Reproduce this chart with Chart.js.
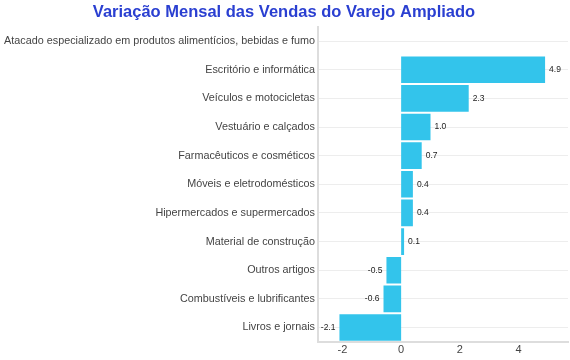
<!DOCTYPE html>
<html>
<head>
<meta charset="utf-8">
<script src="https://cdn.jsdelivr.net/npm/chart.js@4"></script>
<style>
  html, body { margin: 0; padding: 0; background: #fff; }
  #wrap { width: 570px; height: 360px; }
</style>
</head>
<body>
<div id="wrap"><canvas id="chart"></canvas></div>
<script>
const categories = [
  'Atacado especializado em produtos alimentícios, bebidas e fumo',
  'Escritório e informática',
  'Veículos e motocicletas',
  'Vestuário e calçados',
  'Farmacêuticos e cosméticos',
  'Móveis e eletrodomésticos',
  'Hipermercados e supermercados',
  'Material de construção',
  'Outros artigos',
  'Combustíveis e lubrificantes',
  'Livros e jornais'
];
const variacao = [null, 4.9, 2.3, 1.0, 0.7, 0.4, 0.4, 0.1, -0.5, -0.6, -2.1];
const xTicks = [-2, 0, 2, 4];

// rótulos de valor ao lado das barras
const valueLabels = {
  id: 'valueLabels',
  afterDatasetsDraw(chart) {
    const ctx = chart.ctx;
    const meta = chart.getDatasetMeta(0);
    ctx.save();
    ctx.font = '8.5px "Liberation Sans", Arial, sans-serif';
    ctx.fillStyle = '#222';
    ctx.textBaseline = 'middle';
    meta.data.forEach((bar, i) => {
      const v = variacao[i];
      if (v === null) return;
      const txt = v.toFixed(1);
      if (v >= 0) {
        ctx.textAlign = 'left';
        ctx.fillText(txt, bar.x + 4, bar.y);
      } else {
        ctx.textAlign = 'right';
        ctx.fillText(txt, bar.x - 4, bar.y);
      }
    });
    ctx.restore();
  }
};

Chart.defaults.font.family = '"Liberation Sans", Arial, sans-serif';

new Chart(document.getElementById('chart'), {
  type: 'bar',
  data: {
    labels: categories,
    datasets: [{
      data: variacao,
      backgroundColor: '#33c4eb',
      borderWidth: 0,
      barPercentage: 0.93,
      categoryPercentage: 1.0
    }]
  },
  options: {
    indexAxis: 'y',
    responsive: true,
    maintainAspectRatio: false,
    animation: false,
    layout: { padding: { left: 0, right: 2, top: 0, bottom: 1 } },
    plugins: {
      legend: { display: false },
      tooltip: { enabled: false },
      title: {
        display: true,
        text: 'Variação Mensal das Vendas do Varejo Ampliado',
        color: '#2a3fd1',
        font: { size: 16.5, weight: 'bold' },
        padding: { top: 3, bottom: 4 }
      }
    },
    scales: {
      x: {
        min: -2.83,
        max: 5.68,
        afterBuildTicks(scale) {
          scale.ticks = xTicks.map(v => ({ value: v }));
        },
        grid: { display: false, drawTicks: false },
        border: { display: true, color: '#dddddd', width: 2 },
        ticks: {
          color: '#444',
          font: { size: 11 },
          padding: 2,
          callback: v => String(v)
        }
      },
      y: {
        afterFit(scale) {
          scale.width = 318;
        },
        grid: { display: true, offset: false, color: '#ededed', drawTicks: false },
        border: { display: true, color: '#dddddd', width: 2 },
        ticks: {
          color: '#444',
          font: { size: 10.8 },
          padding: 3,
          autoSkip: false
        }
      }
    }
  },
  plugins: [valueLabels]
});
</script>
</body>
</html>
